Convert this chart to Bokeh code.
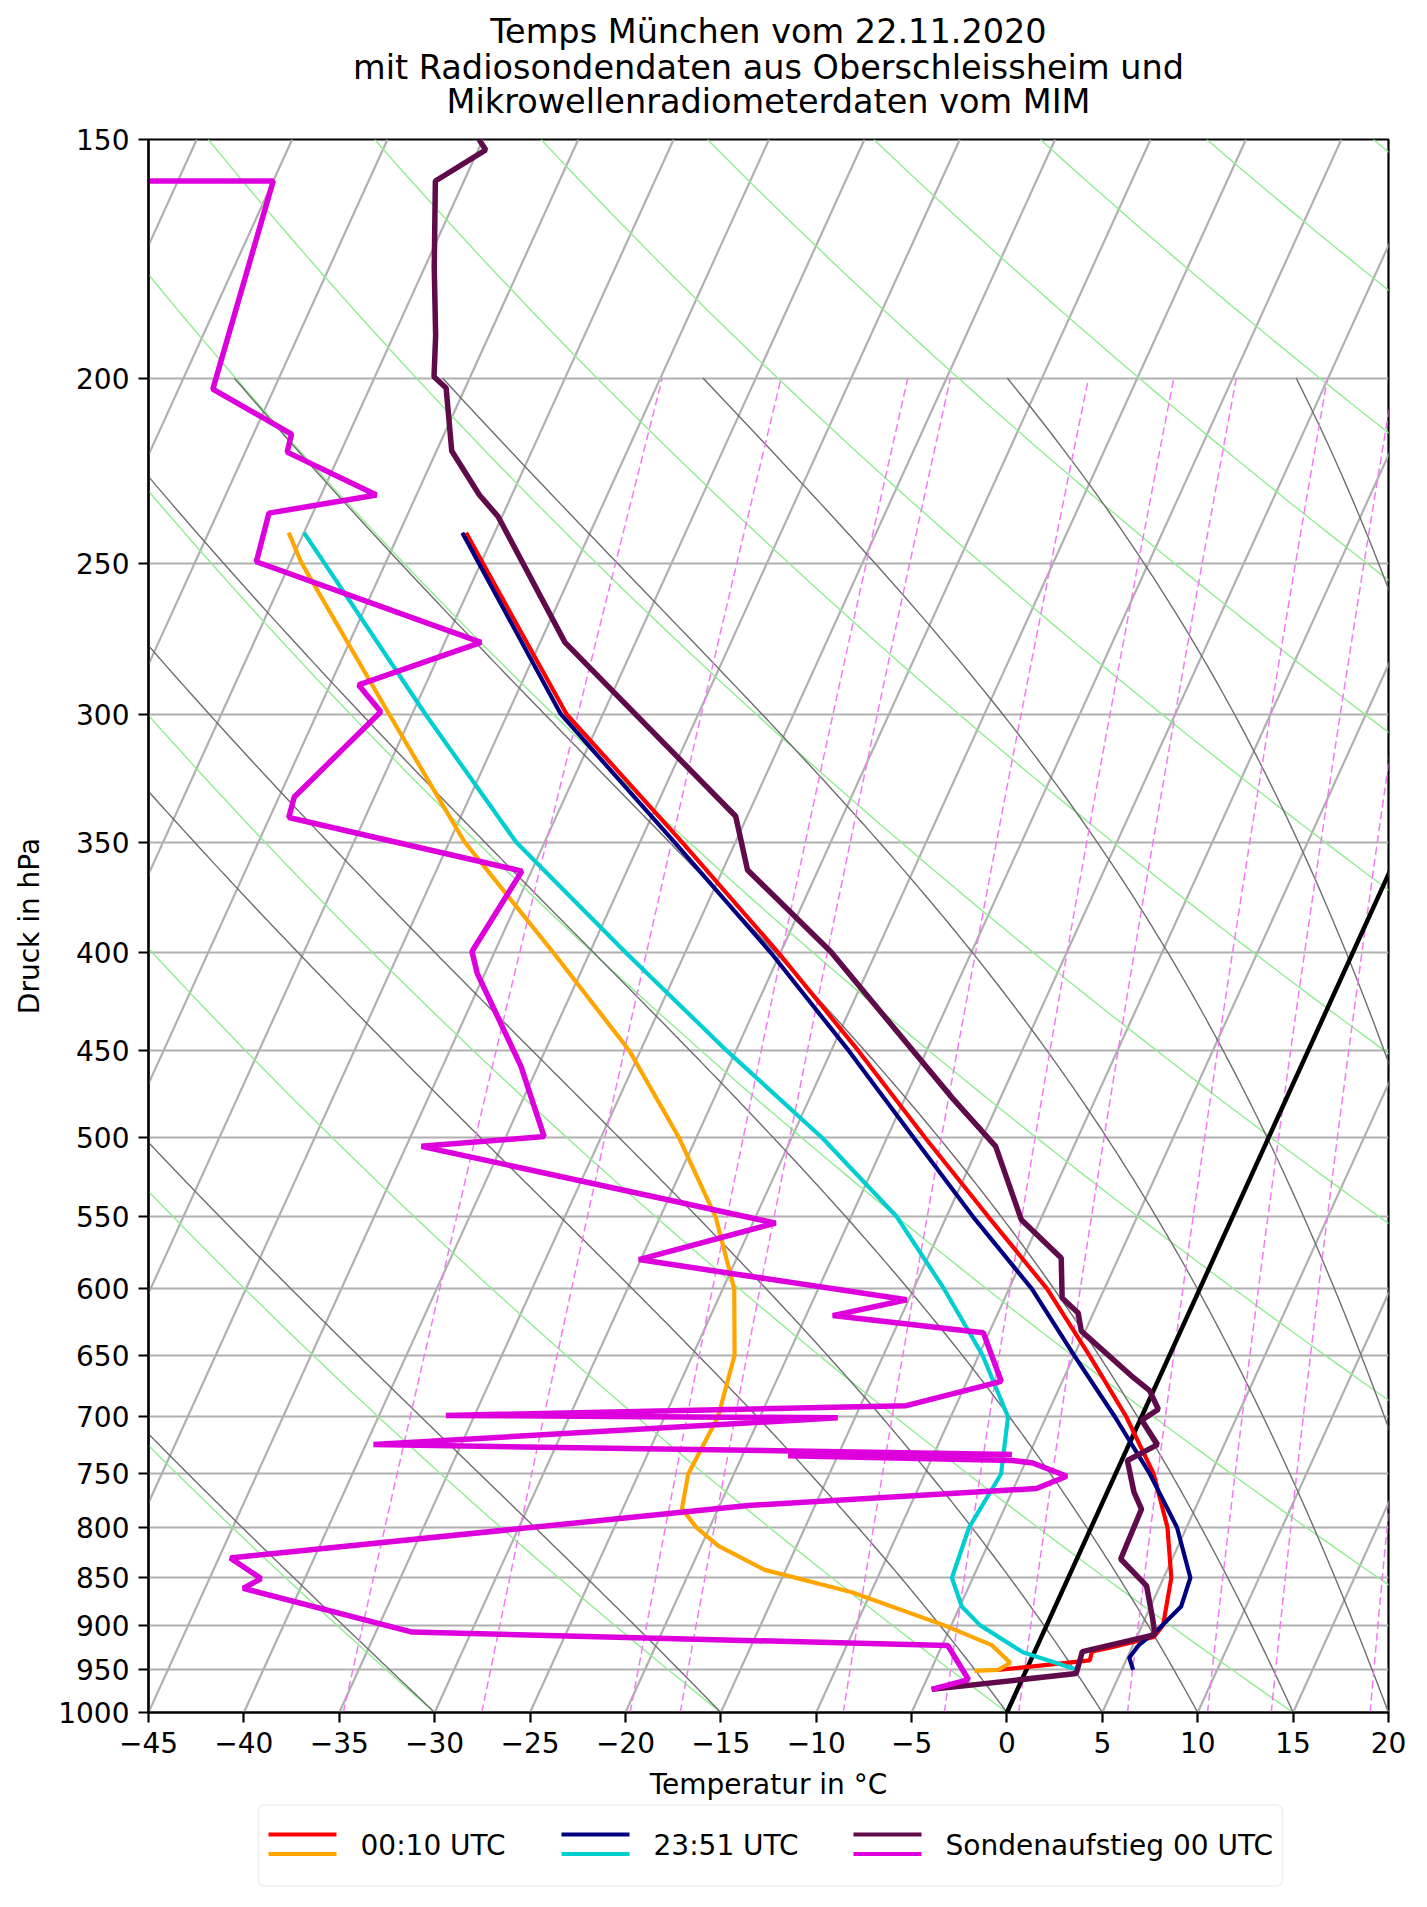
import numpy as np
from bokeh.plotting import figure
from bokeh.models import Range1d, FixedTicker, CustomJSTickFormatter, BoxAnnotation
from bokeh.layouts import column
from bokeh.embed import file_html
from bokeh.resources import INLINE
from bokeh.core.properties import value

# ---------------- data (pressure in hPa, temperature in degC) ----------------
p_mwr1 = [241, 250, 300, 350, 400, 450, 500, 550, 600, 650, 700, 750, 800, 850, 900, 913, 925, 929, 939, 950]
t_mwr1 = [-56.5, -54.9, -46.9, -37.8, -30.1, -23.6, -18.0, -12.8, -8.0, -4.2, -0.8, 2.0, 4.0, 5.4, 6.1, 5.9, 3.8, 3.0, 3.1, -1.5]
td_mwr1_p = [241, 250, 300, 350, 400, 450, 500, 550, 600, 650, 700, 750, 782, 800, 818, 842, 865, 900, 922, 942, 950, 951]
td_mwr1 = [-65.8, -64.4, -56.2, -49.2, -41.9, -35.6, -30.9, -27.1, -24.4, -22.8, -22.2, -22.4, -21.9, -20.7, -19.1, -16.1, -11.0, -5.4, -2.4, -1.0, -1.5, -2.7]

p_mwr2 = [241, 300, 350, 400, 450, 500, 550, 600, 650, 700, 750, 800, 850, 880, 906, 922, 936, 950]
t_mwr2 = [-56.7, -47.2, -38.2, -30.5, -24.1, -18.6, -13.6, -8.8, -5.0, -1.4, 1.8, 4.5, 6.4, 6.6, 5.9, 5.3, 5.1, 5.6]
td_mwr2_p = [241, 250, 300, 350, 400, 450, 500, 550, 600, 650, 700, 750, 800, 850, 880, 900, 930, 950]
td_mwr2 = [-65.0, -63.2, -54.3, -46.5, -38.1, -30.5, -23.4, -17.6, -13.4, -9.8, -7.0, -6.0, -6.4, -6.1, -4.9, -3.5, -0.6, 2.7]

p_sonde = [150, 151.9, 157.7, 175, 190, 199.7, 202.4, 218.4, 230.3, 236.4, 275.1, 339.3, 362.0, 399.4,
           476.8, 505.2, 552.0, 578.0, 606.5, 617.6, 631.3, 667.8, 678.3, 693.7, 703, 723.9, 737.9, 766.6,
           782.5, 831, 858.4, 893.1, 910.3, 929.2, 954.1, 972.5]
t_sonde = [-65.2, -64.6, -66.5, -64.5, -62.8, -61.9, -61.0, -59.2, -56.7, -55.2, -48.7, -35.6, -33.7, -27.4,
           -17.5, -14.1, -11.0, -8.0, -7.0, -5.8, -5.2, -1.35, -0.2, 0.7, 0.1, 1.5, 0.3, 1.4,
           2.2, 2.3, 4.3, 5.4, 5.9, 2.5, 2.7, -4.5]
pd_sonde = [150, 157.7, 157.7, 202.7, 214.0, 218.7, 230.3, 235.4, 249.6, 275.1, 289.6, 299.1, 331.5, 339.8,
            362.5, 399.4, 410.1, 458.6, 499.3, 505.2, 554.2, 579.1, 607.9, 619.6, 632.5, 670.7, 690.7, 698.9,
            700.9, 723.9, 732.5, 733.6, 737.9, 740.1, 752.1, 763.2, 779.1, 829.9, 850.9, 860.9, 907.6, 922.4,
            961.1, 972.5]
td_sonde = [-110, -110, -75.0, -73.2, -68.0, -67.8, -62.1, -67.3, -66.8, -53.1, -58.5, -56.7, -59.2, -59.0,
            -45.5, -46.2, -45.4, -40.9, -38.0, -44.2, -23.8, -30.1, -15.1, -18.6, -10.3, -8.2, -12.6, -36.5,
            -15.9, -39.6, -5.9, -17.6, -5.7, -4.6, -2.5, -3.8, -18.5, -44.4, -42.3, -43.0, -33.1, -4.7,
            -2.8, -4.5]

x_ticks = list(range(-45, 21, 5))
p_ticks = [150, 200, 250, 300, 350, 400, 450, 500, 550, 600, 650, 700, 750, 800, 850, 900, 950, 1000]
title_lines = ["Temps München vom 22.11.2020",
               "mit Radiosondendaten aus Oberschleissheim und",
               "Mikrowellenradiometerdaten vom MIM"]
leg_labels = ["00:10 UTC", "23:51 UTC", "Sondenaufstieg 00 UTC"]

# background line families
isotherms = list(range(-150, 46, 5))
dry_theta = list(range(-60, 256, 15))          # degC at 1000 hPa
moist_t0 = [-45, -30, -15, 0, 5, 10, 15, 20, 25, 30, 35]
mix_ratios_gkg = [0.2, 0.4, 0.8, 1, 2, 3, 4, 6, 8, 10, 14]

# ---------------- skew-T geometry ----------------
XMIN, XMAX, PBOT, PTOP = -45, 20, 1000.0, 150.0
SKEW = (XMAX - XMIN) * np.tan(np.radians(30))
LNTOP = np.log(PBOT / PTOP)


def skx(t, p):
    return np.asarray(t, float) + SKEW * np.log(PBOT / np.asarray(p, float)) / LNTOP


FONT = "DejaVu Sans"
C_SONDE_T, C_SONDE_TD = "#5f0b4b", "#dd00dd"
BL, BR, FW = 148, 30, 1240          # left border, right border, frame width (page pixels)


def panel(height):
    f = figure(frame_width=FW, frame_height=height, x_range=Range1d(BL, BL + FW), y_range=Range1d(height, 0),
               output_backend="svg", toolbar_location=None, title=None,
               x_axis_location=None, y_axis_location=None,
               min_border_left=BL, min_border_right=BR, min_border_top=0, min_border_bottom=0,
               background_fill_color="white", border_fill_color="white")
    f.outline_line_color = None
    f.grid.visible = False
    return f


# ---------------- title panel ----------------
TH = 121
tp = panel(TH)
tp.text(x=[BL + FW / 2] * 3, y=[31, 66.5, 100.5], text=title_lines, text_align="center",
        text_baseline="middle", text_font=value(FONT), text_font_size=value("33.5px"), text_color="black")

# ---------------- main skew-T ----------------
p = figure(frame_width=FW, frame_height=1573, y_axis_type="log", title=None,
           x_range=Range1d(XMIN, XMAX), y_range=Range1d(PBOT, PTOP),
           output_backend="svg", toolbar_location=None,
           min_border_left=BL, min_border_right=BR, min_border_top=139 - TH, min_border_bottom=85,
           background_fill_color="white", border_fill_color="white")
p.outline_line_color = "black"
p.outline_line_width = 2.2

for ax in (p.xaxis, p.yaxis):
    ax.axis_label_text_font = FONT
    ax.axis_label_text_font_size = "28px"
    ax.axis_label_text_font_style = "normal"
    ax.axis_label_text_color = "black"
    ax.major_label_text_font = FONT
    ax.major_label_text_font_size = "28px"
    ax.major_label_text_color = "black"
    ax.major_tick_in = 0
    ax.major_tick_out = 10
    ax.major_tick_line_width = 2.2
    ax.major_tick_line_color = "black"
    ax.minor_tick_line_color = None
    ax.axis_line_width = 2.2
    ax.axis_line_color = "black"
    ax.major_label_standoff = 9

p.xaxis.axis_label = "Temperatur in °C"
p.yaxis.axis_label = "Druck in hPa"
p.xaxis.ticker = FixedTicker(ticks=x_ticks)
p.yaxis.ticker = FixedTicker(ticks=p_ticks)
p.xaxis.formatter = CustomJSTickFormatter(code="return tick < 0 ? '\\u2212' + Math.abs(tick) : tick.toString();")
p.yaxis.formatter = CustomJSTickFormatter(code="return tick.toFixed(0);")
p.xaxis.axis_label_standoff = 12
p.yaxis.axis_label_standoff = 9

p.xgrid.visible = False
p.ygrid.ticker = FixedTicker(ticks=p_ticks)
p.ygrid.grid_line_color = "#b0b0b0"
p.ygrid.grid_line_width = 2.2

# skewed isotherms
iso = np.array(isotherms, float)
p.segment(x0=iso, y0=[PBOT] * len(iso), x1=iso + SKEW, y1=[PTOP] * len(iso),
          line_color="#b0b0b0", line_width=2.2)

# dry adiabats
pp = np.geomspace(PBOT, PTOP, 150)
dxs, dys = [], []
for th in dry_theta:
    t = (th + 273.15) * (pp / 1000.0) ** 0.2857 - 273.15
    dxs.append(skx(t, pp))
    dys.append(pp)
p.multi_line(dxs, dys, line_color="#90ee90", line_width=1.4)

# moist adiabats (pseudo-adiabatic integration)
Rd, Cp, Lv, EPS = 287.04749, 1004.6662, 2.50084e6, 0.622


def sat_mr(T, pr):
    es = 6.112 * np.exp(17.67 * (T - 273.15) / (T - 29.65))
    return EPS * es / (pr - es)


def dTdp(T, pr):
    rs = sat_mr(T, pr)
    return (Rd * T + Lv * rs) / (Cp + Lv * Lv * rs * EPS / (Rd * T * T)) / pr


pm = np.linspace(1000.0, 200.0, 321)
T = np.array(moist_t0, float) + 273.15
prof = [T.copy()]
for i in range(len(pm) - 1):
    h = pm[i + 1] - pm[i]
    k1 = dTdp(T, pm[i])
    k2 = dTdp(T + 0.5 * h * k1, pm[i] + 0.5 * h)
    k3 = dTdp(T + 0.5 * h * k2, pm[i] + 0.5 * h)
    k4 = dTdp(T + h * k3, pm[i + 1])
    T = T + h / 6.0 * (k1 + 2 * k2 + 2 * k3 + k4)
    prof.append(T.copy())
prof = np.array(prof) - 273.15
p.multi_line([skx(prof[:, j], pm) for j in range(prof.shape[1])], [pm] * prof.shape[1],
             line_color="#6e6e6e", line_width=1.4)

# mixing ratio lines
pw = np.linspace(1000.0, 200.0, 60)
mxs, mys = [], []
for w in mix_ratios_gkg:
    wk = w / 1000.0
    e = pw * wk / (EPS + wk)
    le = np.log(e / 6.112)
    td = 243.5 * le / (17.67 - le)
    mxs.append(skx(td, pw))
    mys.append(pw)
p.multi_line(mxs, mys, line_color="#f07cf0", line_width=1.5, line_dash="8 4")

# 0 degC isotherm
p.line(skx([0, 0], [PBOT, PTOP]), [PBOT, PTOP], line_color="black", line_width=4.5)

# profiles
p.line(skx(t_mwr1, p_mwr1), p_mwr1, line_color="red", line_width=4.2)
p.line(skx(td_mwr1, td_mwr1_p), td_mwr1_p, line_color="orange", line_width=4.2)
p.line(skx(t_mwr2, p_mwr2), p_mwr2, line_color="navy", line_width=4.2)
p.line(skx(td_mwr2, td_mwr2_p), td_mwr2_p, line_color="darkturquoise", line_width=4.2)
p.line(skx(t_sonde, p_sonde), p_sonde, line_color=C_SONDE_T, line_width=5.5)
p.line(skx(td_sonde, pd_sonde), pd_sonde, line_color=C_SONDE_TD, line_width=5.5)

# ---------------- legend panel ----------------
LH = 100
lg = panel(LH)
lg.add_layout(BoxAnnotation(left=258, right=1282, top=1.5, bottom=82.5, fill_alpha=0,
                            line_color="#d4d4d4", line_width=2.2, border_radius=6))
leg_top = ["red", "navy", C_SONDE_T]
leg_bot = ["orange", "darkturquoise", C_SONDE_TD]
leg_x = [268, 561, 853]
for xx, c1, c2 in zip(leg_x, leg_top, leg_bot):
    lg.line([xx, xx + 68], [31, 31], line_color=c1, line_width=4.2)
    lg.line([xx, xx + 68], [50.5, 50.5], line_color=c2, line_width=4.2)
lg.text(x=[x + 92 for x in leg_x], y=[41.5] * 3, text=leg_labels, text_baseline="middle",
        text_font=value(FONT), text_font_size=value("28px"), text_color="black")

layout = column(tp, p, lg, spacing=0)
open("out.html", "w", encoding="utf-8").write(file_html(layout, INLINE))
